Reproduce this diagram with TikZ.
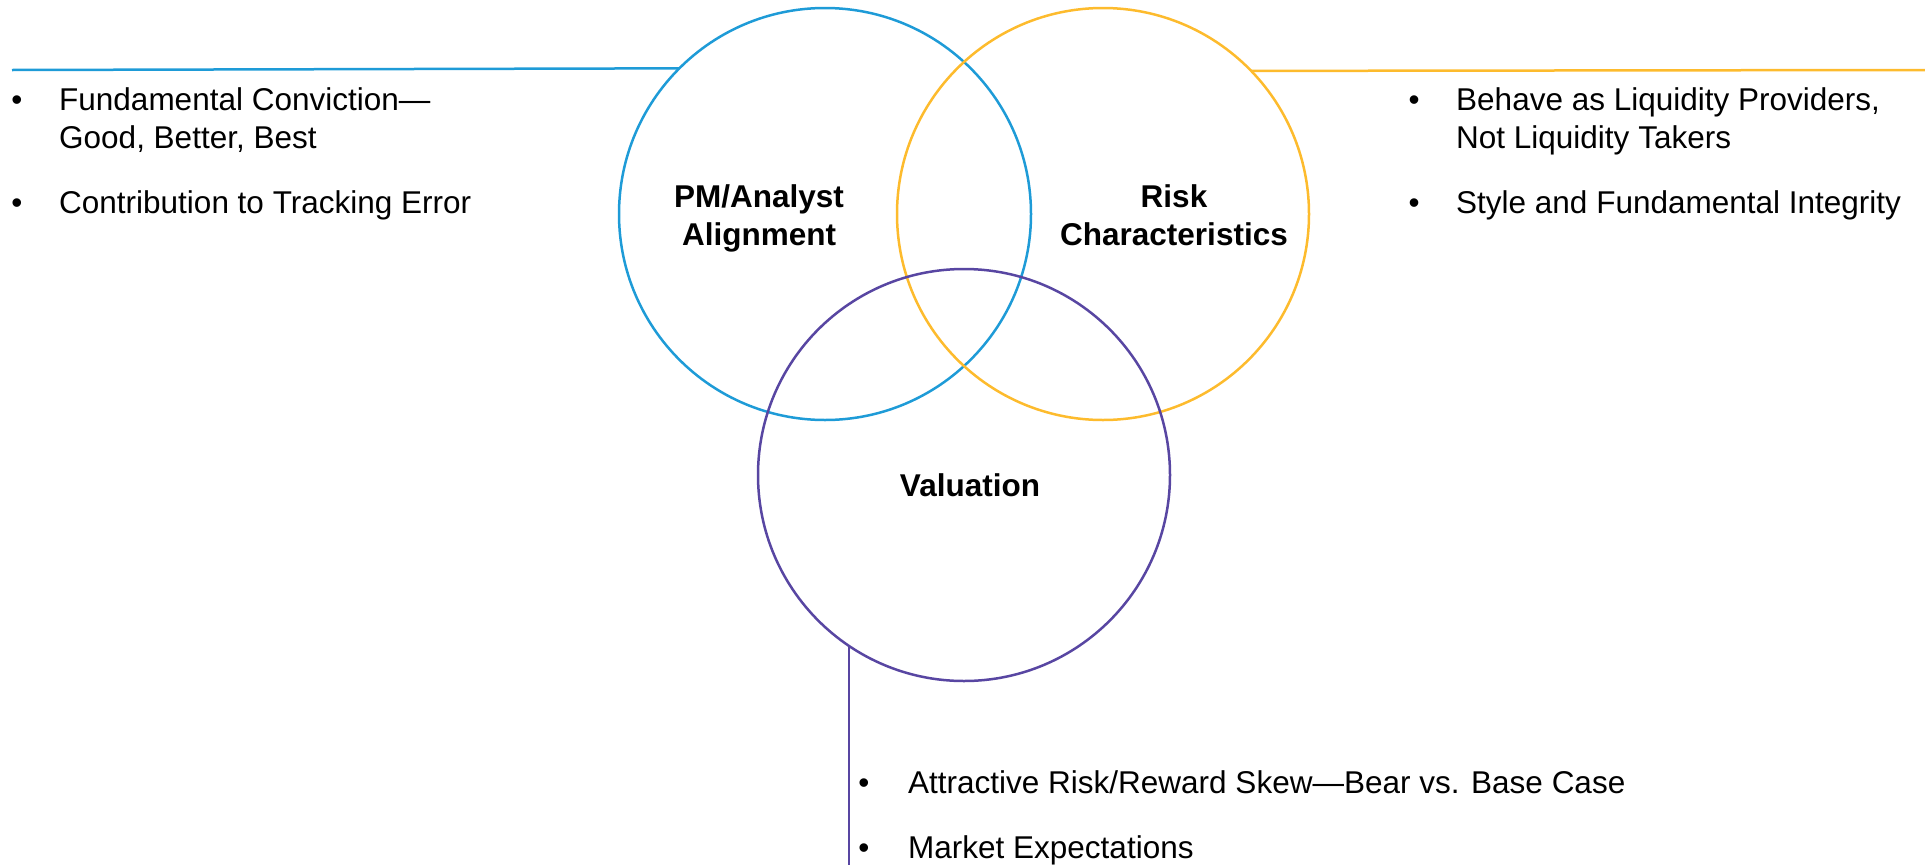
\documentclass[tikz,border=0pt]{standalone}
\usepackage{fontspec}
\setmainfont{Liberation Sans}
\definecolor{cblue}{RGB}{30,155,215}
\definecolor{cyellow}{RGB}{253,187,45}
\definecolor{cpurple}{RGB}{88,70,162}
\begin{document}
\begin{tikzpicture}[x=1pt,y=-1pt,
  ring/.style={circle, draw=#1, line width=2.5pt, minimum size=412pt, inner sep=0pt, outer sep=0pt},
  rule/.style={draw=#1, line width=2.5pt},
  body/.style={font=\fontsize{31.5}{38}\selectfont, anchor=base west, inner sep=0pt},
  dot/.style={font=\fontsize{31.5}{38}\selectfont, anchor=base, inner sep=0pt},
  head/.style={font=\bfseries\fontsize{31.5}{38}\selectfont, anchor=base, inner sep=0pt}]
\useasboundingbox (0,0) rectangle (1925,865);

% the three circles
\node[ring=cblue]   (pm)  at (825,214) {};
\node[ring=cyellow] (rk)  at (1103,214) {};
\node[ring=cpurple] (val) at (964,475) {};

% leader lines
\coordinate (lend) at (12,70);
\coordinate (rend) at (1925,70);
\draw[rule=cblue] (lend) -- (pm.135.65);
\draw[rule=cyellow] (rk.44.35) -- (rend);
\coordinate (bend) at (849,865);
\draw[rule=cpurple] (val.236.06) -- (val.236.06 |- bend);

% circle titles
\node[head] (pm1) at (759,207) {PM/Analyst};
\node[head] (pm2) at (759,245) {Alignment};
\node[head] (rk1) at (1174,207) {Risk};
\node[head] (rk2) at (1174,245) {Characteristics};
\node[head] (val1) at (970,496) {Valuation};

% left list
\node[dot]  (lb1) at (17,110) {•};
\node[body] (lt1) at (59,110) {Fundamental Conviction—};
\node[body] (lt2) at (59,148) {Good, Better, Best};
\node[dot]  (lb2) at (17,213) {•};
\node[body] (lt3) at (59,213) {Contribution to Tracking Error};

% right list
\node[dot]  (rb1) at (1414,110) {•};
\node[body] (rt1) at (1456,110) {Behave as Liquidity Providers,};
\node[body] (rt2) at (1456,148) {Not Liquidity Takers};
\node[dot]  (rb2) at (1414,213) {•};
\node[body] (rt3) at (1456,213) {Style and Fundamental Integrity};

% bottom list
\node[dot]  (bb1) at (864,793) {•};
\node[body] (bt1) at (908,793) {Attractive Risk/Reward Skew—Bear vs. Base Case};
\node[dot]  (bb2) at (864,858) {•};
\node[body] (bt2) at (908,858) {Market Expectations};
\end{tikzpicture}
\end{document}
